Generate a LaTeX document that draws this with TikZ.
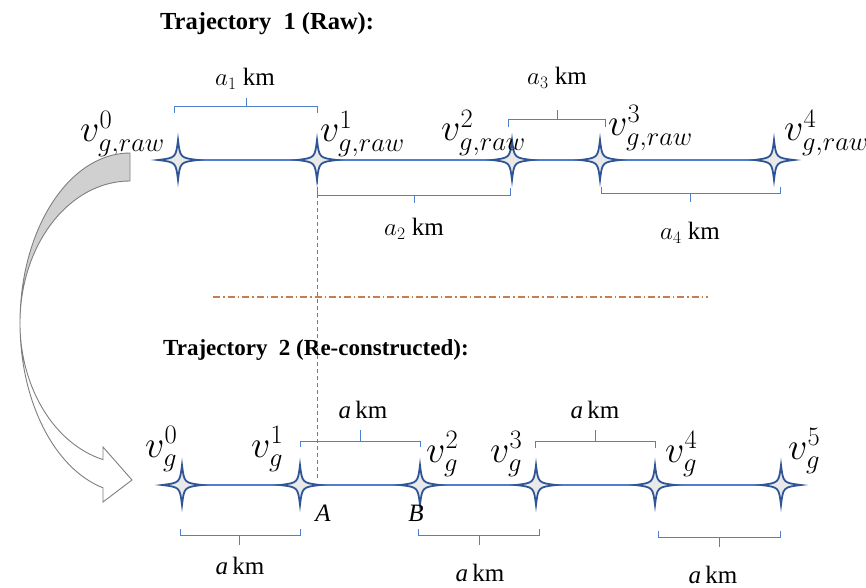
\RequirePackage{fix-cm}
\documentclass[tikz,border=0pt]{standalone}
\usepackage{fontspec}
\setmainfont{Liberation Serif}
\definecolor{lineblue}{HTML}{4F80CF}
\definecolor{dashblue}{HTML}{4A7FD6}
\definecolor{starblue}{HTML}{2F5597}
\definecolor{starfill}{HTML}{E9E9E9}
\definecolor{sepbrown}{RGB}{198,125,80}
\definecolor{arrgray}{HTML}{7F7F7F}
\definecolor{arrfill}{HTML}{D0D0D0}
\newcommand\mybrk[6]{\draw[brk] (#1,#4) -- (#1,#3) -- (#2,#3) -- (#2,#4) (#5,#3) -- (#5,#6);}
\begin{document}
\begin{tikzpicture}[x=1pt,y=-1pt,
  trk/.style={draw=lineblue,line width=1.15pt},
  brk/.style={draw=lineblue,line width=1pt},
  stpos/.style={circle,inner sep=0pt,minimum size=40pt},
  vlab/.style={anchor=base west,inner sep=0pt,font=\fontsize{38}{44}\selectfont},
  kmlab/.style={inner sep=0pt,font=\fontsize{25}{30}\selectfont},
  ttl/.style={anchor=base west,inner sep=0pt,font=\bfseries},
  vstar/.pic={\draw[draw=starblue,fill=starfill,line width=1.8pt,line join=miter]
     (20,0) .. controls (2.2,2.2) .. (0,20) .. controls (-2.2,2.2) .. (-20,0)
     .. controls (-2.2,-2.2) .. (0,-20) .. controls (2.2,-2.2) .. (20,0) -- cycle;}]
\useasboundingbox (0,0) rectangle (866,588);

% titles
\node[ttl,font=\fontsize{24.5}{28}\selectfont\bfseries] (t1) at (160,30) {Trajectory\ \ 1 (Raw):};
\node[ttl,font=\fontsize{23}{28}\selectfont\bfseries] (t2) at (163,355) {Trajectory\ \ 2 (Re-constructed):};

% raw trajectory positions
\node[stpos] (r0) at (178,160) {};
\node[stpos] (r1) at (317,160) {};
\node[stpos] (r2) at (512,160) {};
\node[stpos] (r3) at (600,160) {};
\node[stpos] (r4) at (774,160) {};
% reconstructed positions
\node[stpos] (g0) at (182,485) {};
\node[stpos] (g1) at (300,485) {};
\node[stpos] (g2) at (420,485) {};
\node[stpos] (g3) at (536,485) {};
\node[stpos] (g4) at (655,485) {};
\node[stpos] (g5) at (781,485) {};

% dashed vertical projection
\coordinate (dA) at (317,481);
\draw[draw=dashblue,line width=1pt,dash pattern=on 4pt off 3pt] (r1.south) -- (dA);

% separator
\coordinate (s1) at (213,297);
\coordinate (s2) at (708,297);
\draw[draw=sepbrown,line width=1.1pt,dash pattern=on 7pt off 3pt on 1.5pt off 3pt] (s1) -- (s2);

% tracks
\draw[trk] (r0.center) -- (r1.center) -- (r2.center) -- (r3.center) -- (r4.center);
\draw[trk] (g0.center) -- (g1.center) -- (g2.center) -- (g3.center) -- (g4.center) -- (g5.center);

% stars
\foreach \n in {r0,r1,r2,r3,r4,g0,g1,g2,g3,g4,g5} {\pic at (\n.center) {vstar};}

% vertex labels
\node[vlab] (lr0) at (80,142) {$v^{0}_{g,raw}$};
\node[vlab] (lr1) at (320,142) {$v^{1}_{g,raw}$};
\node[vlab] (lr2) at (441,141) {$v^{2}_{g,raw}$};
\node[vlab] (lr3) at (608,136) {$v^{3}_{g,raw}$};
\node[vlab] (lr4) at (784,141) {$v^{4}_{g,raw}$};
\node[vlab] (lg0) at (145,457) {$v^{0}_{g}$};
\node[vlab] (lg1) at (251,457) {$v^{1}_{g}$};
\node[vlab] (lg2) at (426,462) {$v^{2}_{g}$};
\node[vlab] (lg3) at (490,462) {$v^{3}_{g}$};
\node[vlab] (lg4) at (665,462) {$v^{4}_{g}$};
\node[vlab] (lg5) at (788,459) {$v^{5}_{g}$};

\node[kmlab] (pA) at (323,513) {\textit{A}};
\node[kmlab] (pB) at (416,513) {\textit{B}};

% brackets, raw
\mybrk{174}{317}{107}{113}{246}{98}
\mybrk{508}{605}{120}{127}{557}{110}
\mybrk{317}{510}{195}{188}{414}{203}
\mybrk{601}{780}{193}{187}{690}{202}
% brackets, reconstructed
\mybrk{300}{420}{441}{447}{360}{430}
\mybrk{535}{655}{441}{448}{595}{430}
\mybrk{180}{300}{535}{529}{239}{545}
\mybrk{418}{539}{535}{529}{479}{545}
\mybrk{658}{780}{537}{531}{719}{547}

% distance labels
\node[kmlab] (k1) at (245,79) {$a_1$ km};
\node[kmlab] (k3) at (557,78) {$a_3$ km};
\node[kmlab] (k2) at (414,229) {$a_2$ km};
\node[kmlab] (k4) at (690,233) {$a_4$ km};
\node[kmlab] (m1) at (363,410) {\textit{a}\,km};
\node[kmlab] (m2) at (595,410) {\textit{a}\,km};
\node[kmlab] (m3) at (240,566) {\textit{a}\,km};
\node[kmlab] (m4) at (480,573) {\textit{a}\,km};
\node[kmlab] (m5) at (713,575) {\textit{a}\,km};

% curved block arrow
\draw[draw=arrgray,fill=arrfill,line width=0.9pt,line join=miter]
  (130,153) arc[start angle=270,end angle=180,x radius=110,y radius=170]
  arc[start angle=180,end angle=270,x radius=110,y radius=142] -- cycle;
\draw[draw=arrgray,fill=white,line width=0.9pt,line join=miter]
  (20,323) arc[start angle=180,end angle=104.2,x radius=110,y radius=170]
  -- (103,502) -- (132,480) -- (103,447) -- (103,459.6)
  arc[start angle=104.2,end angle=180,x radius=110,y radius=141] -- cycle;
\end{tikzpicture}
\end{document}
